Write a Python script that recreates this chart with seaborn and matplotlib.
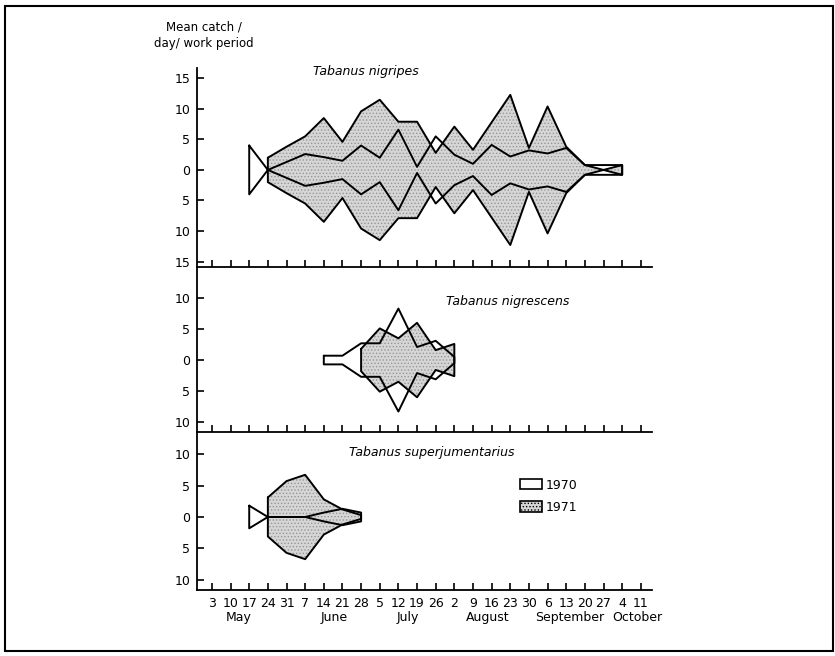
import numpy as np
import pandas as pd
import matplotlib
matplotlib.use('Agg')
import matplotlib.pyplot as plt
from matplotlib.patches import Patch, Rectangle
import seaborn as sns

nan = np.nan

# weekly sampling dates, May 3 .. October 11
weeks = ['3', '10', '17', '24', '31', '7', '14', '21', '28', '5', '12', '19',
         '26', '2', '9', '16', '23', '30', '6', '13', '20', '27', '4', '11']
months = ['May', 'June', 'July', 'August', 'September', 'October']
month_pos = [1.45, 6.55, 10.5, 14.8, 19.2, 22.8]

# mean catch / day / work period (half-width of kite)
nigripes_1970 = [nan, nan, 4.0, 0.0, 1.3, 2.6, 2.1, 1.5, 4.0, 2.0, 6.6, 0.5,
                 5.5, 2.5, 1.0, 4.1, 2.2, 3.2, 2.7, 3.6, 0.8, 0.8, 0.8, nan]
nigripes_1971 = [nan, nan, nan, 2.0, 3.8, 5.5, 8.5, 4.6, 9.6, 11.5, 7.9, 7.9,
                 2.8, 7.1, 3.3, 7.8, 12.3, 3.6, 10.4, 3.8, 0.8, 0.0, 0.8, nan]
nigrescens_1970 = [nan] * 6 + [0.7, 0.7, 2.7, 2.7, 8.3, 2.1, 3.1, 0.5] + [nan] * 10
nigrescens_1971 = [nan] * 8 + [1.8, 5.1, 3.5, 6.0, 1.6, 2.6] + [nan] * 10
superjum_1970 = [nan] * 2 + [1.8, 0.0, 0.0, 0.0, 0.7, 1.3, 0.7] + [nan] * 15
superjum_1971 = [nan] * 3 + [3.1, 5.7, 6.7, 2.8, 1.2, 0.3] + [nan] * 15

species = ['Tabanus nigripes', 'Tabanus nigrescens', 'Tabanus superjumentarius']

sns.set_style('ticks')
plt.rcParams['font.family'] = ['DejaVu Sans']
plt.rcParams['text.color'] = 'black'
plt.rcParams['axes.labelcolor'] = 'black'
plt.rcParams['hatch.linewidth'] = 0.6

STIPPLE = '#d6d6d6'


def kite_outline(vals):
    v = np.asarray(vals, dtype=float)
    idx = np.where(~np.isnan(v))[0]
    y = v[idx]
    px = np.r_[idx, idx[::-1], idx[0]]
    py = np.r_[y, -y[::-1], y[0]]
    return pd.DataFrame({'x': px.astype(float), 'y': py})


def draw_kites(ax, v70, v71):
    k71 = kite_outline(v71)
    ax.fill(k71.x, k71.y, facecolor=STIPPLE, edgecolor='#969696', hatch='.....',
            linewidth=0, zorder=1)
    for k in (k71, kite_outline(v70)):
        sns.lineplot(data=k, x='x', y='y', sort=False, estimator=None,
                     color='black', linewidth=1.4, ax=ax, zorder=3)


fig = plt.figure(figsize=(8.35, 6.56), dpi=100)
gs = fig.add_gridspec(3, 1, height_ratios=[199, 165, 158], hspace=0,
                      left=197 / 835, right=652 / 835,
                      top=1 - 68 / 656, bottom=1 - 590 / 656)
axes = [fig.add_subplot(gs[i]) for i in range(3)]

data = [(nigripes_1970, nigripes_1971), (nigrescens_1970, nigrescens_1971),
        (superjum_1970, superjum_1971)]
ylims = [(-15.9, 16.7), (-11.6, 15.0), (-11.6, 13.5)]
yticks = [[15, 10, 5, 0, -5, -10, -15], [10, 5, 0, -5, -10], [10, 5, 0, -5, -10]]
title_pos = [(0.371, 0.98), (0.683, 0.79), (0.516, 0.873)]

for ax, (v70, v71), yl, yt, name, tp in zip(axes, data, ylims, yticks, species, title_pos):
    draw_kites(ax, v70, v71)
    ax.set_xlim(-0.8, 23.6)
    ax.set_ylim(*yl)
    ax.set_yticks(yt)
    ax.set_yticklabels([str(abs(t)) for t in yt])
    ax.set_xticks(range(len(weeks)))
    ax.set_xticklabels(weeks)
    ax.set_xlabel('')
    ax.set_ylabel('')
    for s in ('top', 'right'):
        ax.spines[s].set_visible(False)
    for s in ('left', 'bottom'):
        ax.spines[s].set_linewidth(1.3)
        ax.spines[s].set_color('black')
    ax.tick_params(axis='both', direction='in', length=5, width=1.2,
                   labelsize=9, colors='black')
    ax.tick_params(axis='y', pad=5)
    ax.tick_params(axis='x', pad=5)
    ax.text(tp[0], tp[1], name, transform=ax.transAxes, ha='center', va='center',
            fontsize=9, style='italic', color='black')
    ax.set_facecolor('none')

for ax in axes[:2]:
    ax.tick_params(axis='x', labelbottom=False)

bottom = axes[2]
for m, p in zip(months, month_pos):
    bottom.text(p, -0.171, m, transform=bottom.get_xaxis_transform(),
                ha='center', va='center', fontsize=9, color='black')

handles = [Patch(facecolor='white', edgecolor='black', linewidth=1.2),
           Patch(facecolor=STIPPLE, edgecolor='black', hatch='.....', linewidth=1.2)]
bottom.legend(handles, ['1970', '1971'], loc='upper left',
              bbox_to_anchor=(0.697, 0.745), frameon=False, fontsize=9,
              borderpad=0, handlelength=1.7, handleheight=0.9,
              handletextpad=0.3, labelspacing=0.75)

fig.text(204 / 835, 1 - 35 / 656, 'Mean catch /\nday/ work period', ha='center',
         va='center', fontsize=8.5, linespacing=1.3, color='black')

fig.add_artist(Rectangle((5 / 835, 5 / 656), 828 / 835, 645 / 656, fill=False,
                         linewidth=1.5, edgecolor='black',
                         transform=fig.transFigure))

fig.savefig('out.png', dpi=100, facecolor='white')
